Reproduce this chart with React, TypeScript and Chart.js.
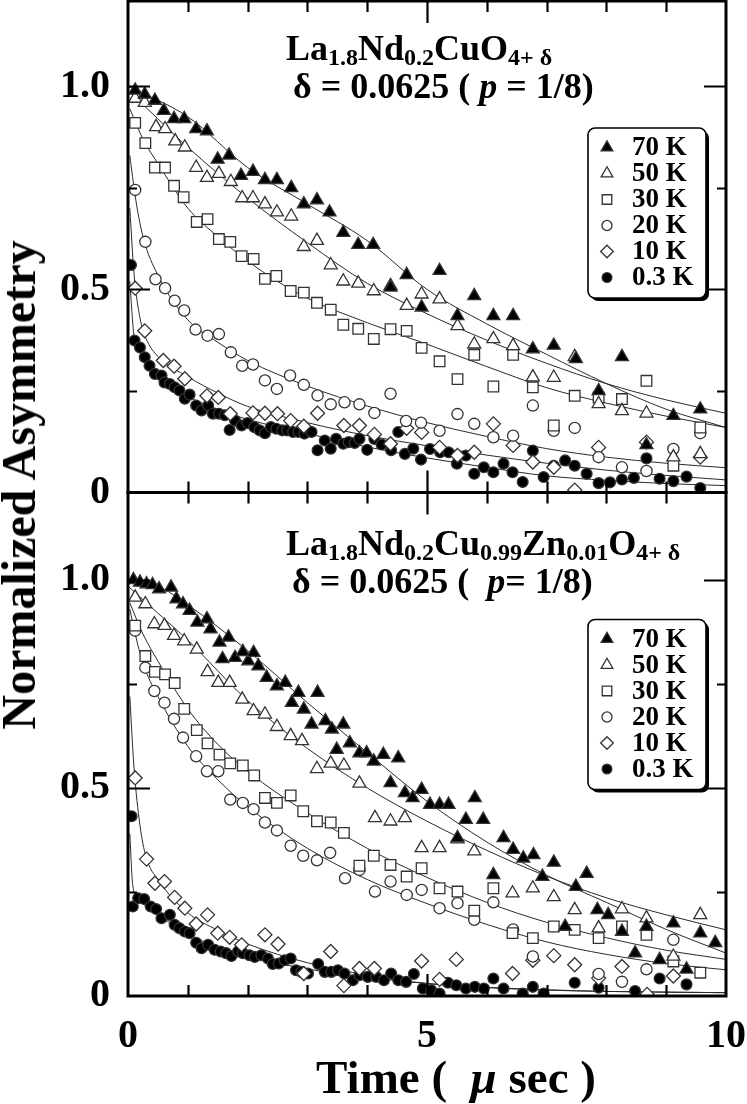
import { useEffect, useRef } from 'react';
import { Chart, registerables } from 'chart.js';
import { drawPoint } from 'chart.js/helpers';

Chart.register(...registerables);

type Pt = [number, number];

const FONT = '"Liberation Serif", "Times New Roman", serif';

const temps = ['70 K', '50 K', '30 K', '20 K', '10 K', '0.3 K'];

// ---- upper panel: La1.8Nd0.2CuO4+d ----
const top70K: Pt[] = [
  [0.12, 0.99], [0.28, 0.98], [0.45, 0.965], [0.6, 0.94], [0.77, 0.92], [0.94, 0.92], [1.14, 0.895],
  [1.32, 0.89], [1.5, 0.82], [1.69, 0.83], [1.89, 0.78], [2.09, 0.79], [2.29, 0.77], [2.49, 0.77],
  [2.73, 0.75], [2.94, 0.71], [3.16, 0.72], [3.37, 0.69], [3.6, 0.64], [3.85, 0.61], [4.1, 0.61],
  [4.39, 0.505], [4.66, 0.536], [4.91, 0.456], [5.21, 0.546], [5.51, 0.435], [5.79, 0.484], [6.11, 0.435],
  [6.44, 0.435], [6.77, 0.353], [7.12, 0.362], [7.49, 0.329], [7.87, 0.25], [8.26, 0.334], [8.67, 0.117],
  [9.12, 0.189], [9.57, 0.205],
];
const top50K: Pt[] = [
  [0.12, 0.97], [0.28, 0.96], [0.47, 0.9], [0.62, 0.895], [0.79, 0.865], [0.95, 0.85], [1.14, 0.8],
  [1.32, 0.775], [1.52, 0.785], [1.72, 0.765], [1.91, 0.725], [2.09, 0.725], [2.29, 0.71], [2.49, 0.69],
  [2.73, 0.68], [2.94, 0.605], [3.16, 0.62], [3.39, 0.56], [3.6, 0.52], [3.85, 0.515], [4.11, 0.496],
  [4.39, 0.509], [4.66, 0.46], [4.91, 0.488], [5.21, 0.476], [5.51, 0.41], [5.79, 0.365], [6.11, 0.378],
  [6.44, 0.361], [6.77, 0.284], [7.12, 0.283], [7.47, 0.334], [7.87, 0.218], [8.26, 0.201], [8.67, 0.195],
  [9.12, 0.087], [9.57, 0.095],
];
const top30K: Pt[] = [
  [0.12, 0.91], [0.29, 0.86], [0.45, 0.8], [0.62, 0.8], [0.77, 0.755], [0.93, 0.727], [1.15, 0.666],
  [1.33, 0.673], [1.52, 0.624], [1.71, 0.617], [1.9, 0.582], [2.1, 0.575], [2.29, 0.526], [2.48, 0.533],
  [2.72, 0.496], [2.94, 0.492], [3.16, 0.467], [3.39, 0.45], [3.6, 0.413], [3.85, 0.403], [4.11, 0.378],
  [4.39, 0.402], [4.66, 0.398], [4.91, 0.356], [5.21, 0.323], [5.51, 0.279], [5.79, 0.339], [6.11, 0.261],
  [6.44, 0.339], [6.77, 0.259], [7.12, 0.165], [7.47, 0.238], [7.87, 0.234], [8.26, 0.23], [8.67, 0.275],
  [9.12, 0.066], [9.57, 0.16],
];
const top20K: Pt[] = [
  [0.12, 0.745], [0.29, 0.617], [0.46, 0.525], [0.62, 0.503], [0.78, 0.472], [0.94, 0.448], [1.13, 0.401],
  [1.33, 0.386], [1.52, 0.39], [1.72, 0.345], [1.91, 0.312], [2.09, 0.315], [2.29, 0.276], [2.49, 0.255],
  [2.71, 0.288], [2.94, 0.265], [3.17, 0.239], [3.39, 0.217], [3.62, 0.222], [3.87, 0.217], [4.12, 0.196],
  [4.39, 0.243], [4.65, 0.176], [4.9, 0.172], [5.21, 0.152], [5.51, 0.193], [5.79, 0.169], [6.11, 0.136],
  [6.44, 0.14], [6.77, 0.214], [7.12, 0.152], [7.47, 0.159], [7.87, 0.087], [8.26, 0.062], [8.67, 0.053],
  [9.12, 0.107], [9.57, 0.146],
];
const top10K: Pt[] = [
  [0.12, 0.503], [0.28, 0.398], [0.59, 0.325], [0.77, 0.311], [0.95, 0.28], [1.32, 0.238], [1.51, 0.234],
  [1.71, 0.194], [2.09, 0.196], [2.29, 0.195], [2.5, 0.194], [2.72, 0.177], [2.94, 0.163], [3.17, 0.195],
  [3.61, 0.165], [3.87, 0.165], [4.12, 0.143], [4.39, 0.12], [4.66, 0.158], [4.91, 0.148], [5.21, 0.111],
  [5.51, 0.091], [5.79, 0.099], [6.11, 0.169], [6.44, 0.116], [6.77, 0.075], [7.12, 0.062], [7.47, 0.006],
  [7.87, 0.111], [8.67, 0.124], [9.57, 0.087],
];
const top03K: Pt[] = [
  [0.05, 0.56], [0.11, 0.374], [0.2, 0.357], [0.28, 0.333], [0.36, 0.312], [0.45, 0.292], [0.56, 0.288],
  [0.61, 0.271], [0.7, 0.267], [0.78, 0.259], [0.86, 0.251], [0.95, 0.231], [1.03, 0.241], [1.14, 0.214],
  [1.23, 0.202], [1.34, 0.214], [1.42, 0.194], [1.52, 0.194], [1.62, 0.19], [1.7, 0.154], [1.79, 0.177],
  [1.9, 0.165], [2.0, 0.171], [2.11, 0.161], [2.2, 0.153], [2.29, 0.146], [2.39, 0.161], [2.48, 0.157],
  [2.58, 0.153], [2.66, 0.153], [2.76, 0.149], [2.85, 0.149], [2.95, 0.145], [3.07, 0.149], [3.17, 0.104],
  [3.29, 0.128], [3.39, 0.108], [3.48, 0.132], [3.6, 0.12], [3.69, 0.124], [3.79, 0.122], [3.87, 0.132],
  [4.0, 0.105], [4.12, 0.132], [4.24, 0.118], [4.4, 0.104], [4.52, 0.149], [4.63, 0.095], [4.77, 0.108],
  [4.9, 0.081], [5.05, 0.107], [5.22, 0.099], [5.36, 0.099], [5.5, 0.071], [5.65, 0.091], [5.79, 0.046],
  [5.95, 0.062], [6.11, 0.05], [6.28, 0.071], [6.43, 0.05], [6.6, 0.026], [6.77, 0.103], [6.95, 0.038],
  [7.12, 0.066], [7.31, 0.079], [7.47, 0.066], [7.67, 0.046], [7.87, 0.023], [8.06, 0.025], [8.26, 0.032],
  [8.46, 0.036], [8.67, 0.084], [8.89, 0.034], [9.12, 0.028], [9.34, 0.039], [9.57, 0.011],
];

// fitted curves
const topFit70K: Pt[] = [[0, 1.0], [1, 0.925], [2, 0.8], [3, 0.71], [4, 0.62], [5, 0.5], [6, 0.415], [7, 0.34], [8, 0.268], [9, 0.205], [10, 0.16]];
const topFit50K: Pt[] = [[0, 0.99], [0.5, 0.92], [1, 0.85], [2, 0.725], [3, 0.615], [4, 0.515], [5, 0.44], [6, 0.375], [7, 0.318], [8, 0.268], [9, 0.228], [10, 0.195]];
const topFit30K: Pt[] = [[0.03, 0.945], [0.25, 0.87], [0.5, 0.81], [1, 0.7], [1.5, 0.63], [2, 0.57], [2.5, 0.52], [3, 0.478], [4, 0.418], [5, 0.365], [6, 0.31], [7, 0.258], [8, 0.22], [9, 0.188], [10, 0.16]];
const topFit20K: Pt[] = [[0.03, 0.83], [0.12, 0.73], [0.25, 0.63], [0.5, 0.535], [1, 0.425], [1.5, 0.37], [2, 0.325], [3, 0.262], [4, 0.213], [5, 0.172], [6, 0.138], [7, 0.108], [8, 0.087], [9, 0.072], [10, 0.061]];
const topFit10K: Pt[] = [[0.03, 0.7], [0.1, 0.54], [0.2, 0.43], [0.3, 0.38], [0.5, 0.335], [1, 0.285], [1.5, 0.245], [2, 0.212], [3, 0.172], [4, 0.14], [5, 0.115], [6, 0.092], [7, 0.072], [8, 0.055], [9, 0.042], [10, 0.031]];
const topFit03K: Pt[] = [[0.03, 0.52], [0.1, 0.385], [0.2, 0.345], [0.3, 0.32], [0.5, 0.29], [1, 0.237], [1.5, 0.205], [2, 0.18], [3, 0.145], [4, 0.112], [5, 0.085], [6, 0.062], [7, 0.041], [8, 0.03], [9, 0.022], [10, 0.017]];

// ---- lower panel: La1.8Nd0.2Cu0.99Zn0.01O4+d ----
const bot70K: Pt[] = [
  [0.09, 1.0], [0.2, 0.994], [0.31, 0.99], [0.41, 0.988], [0.52, 0.978], [0.72, 0.982], [0.81, 0.954],
  [0.92, 0.942], [1.03, 0.926], [1.16, 0.898], [1.32, 0.906], [1.38, 0.882], [1.53, 0.85], [1.58, 0.81],
  [1.68, 0.862], [1.79, 0.813], [1.92, 0.827], [2.01, 0.805], [2.1, 0.825], [2.18, 0.793], [2.32, 0.765],
  [2.49, 0.745], [2.63, 0.753], [2.74, 0.705], [2.85, 0.729], [2.94, 0.689], [3.07, 0.653], [3.17, 0.729],
  [3.3, 0.661], [3.41, 0.641], [3.49, 0.592], [3.6, 0.653], [3.71, 0.608], [3.87, 0.584], [3.99, 0.584],
  [4.11, 0.564], [4.27, 0.58], [4.39, 0.512], [4.52, 0.572], [4.63, 0.488], [4.76, 0.476], [4.91, 0.496],
  [5.05, 0.46], [5.21, 0.46], [5.36, 0.46], [5.51, 0.38], [5.65, 0.424], [5.8, 0.476], [5.94, 0.424],
  [6.11, 0.291], [6.28, 0.38], [6.44, 0.352], [6.61, 0.331], [6.78, 0.339], [6.93, 0.287], [7.12, 0.321],
  [7.31, 0.167], [7.49, 0.263], [7.67, 0.294], [7.85, 0.207], [8.03, 0.195], [8.26, 0.155], [8.48, 0.103],
  [8.67, 0.167], [8.89, 0.087], [9.12, 0.175], [9.34, 0.064], [9.57, 0.151], [9.82, 0.128],
];
const bot50K: Pt[] = [
  [0.12, 0.958], [0.29, 0.942], [0.44, 0.894], [0.61, 0.89], [0.77, 0.866], [0.94, 0.853], [1.15, 0.833],
  [1.33, 0.779], [1.51, 0.753], [1.7, 0.753], [1.91, 0.713], [2.1, 0.685], [2.29, 0.677], [2.49, 0.647],
  [2.72, 0.625], [2.91, 0.613], [3.16, 0.546], [3.39, 0.559], [3.61, 0.554], [3.87, 0.511], [4.13, 0.428],
  [4.39, 0.42], [4.63, 0.428], [4.91, 0.356], [5.21, 0.356], [5.51, 0.377], [5.79, 0.348], [6.43, 0.247],
  [6.77, 0.259], [7.12, 0.238], [7.47, 0.207], [7.87, 0.163], [8.26, 0.209], [8.67, 0.187], [9.12, 0.095],
  [9.57, 0.195],
];
const bot30K: Pt[] = [
  [0.12, 0.89], [0.29, 0.817], [0.45, 0.779], [0.62, 0.773], [0.78, 0.752], [0.94, 0.69], [1.15, 0.639],
  [1.33, 0.607], [1.53, 0.58], [1.71, 0.559], [1.92, 0.554], [2.11, 0.53], [2.29, 0.476], [2.49, 0.464],
  [2.72, 0.482], [2.93, 0.444], [3.16, 0.42], [3.39, 0.417], [3.61, 0.392], [3.87, 0.313], [4.11, 0.337],
  [4.39, 0.315], [4.66, 0.287], [4.91, 0.307], [5.21, 0.259], [5.51, 0.251], [5.79, 0.205], [6.11, 0.259],
  [6.43, 0.151], [6.77, 0.139], [7.12, 0.167], [7.47, 0.159], [7.87, 0.139], [8.26, 0.167], [8.67, 0.147],
  [9.12, 0.083], [9.57, 0.056],
];
const bot20K: Pt[] = [
  [0.12, 0.878], [0.29, 0.789], [0.44, 0.733], [0.61, 0.705], [0.77, 0.666], [0.92, 0.621], [1.14, 0.576],
  [1.32, 0.54], [1.51, 0.54], [1.71, 0.472], [1.92, 0.464], [2.1, 0.449], [2.29, 0.417], [2.49, 0.398],
  [2.72, 0.361], [2.93, 0.337], [3.16, 0.326], [3.38, 0.344], [3.63, 0.283], [3.87, 0.303], [4.13, 0.251],
  [4.39, 0.275], [4.66, 0.243], [4.91, 0.255], [5.21, 0.211], [5.51, 0.223], [5.79, 0.183], [6.11, 0.225],
  [6.44, 0.16], [6.77, 0.095], [7.87, 0.053], [8.26, 0.034], [8.67, 0.064], [9.12, 0.135],
];
const bot10K: Pt[] = [
  [0.12, 0.524], [0.31, 0.329], [0.45, 0.271], [0.61, 0.275], [0.78, 0.237], [0.95, 0.211], [1.14, 0.173],
  [1.33, 0.195], [1.5, 0.151], [1.7, 0.141], [1.9, 0.123], [2.29, 0.147], [2.51, 0.125], [2.94, 0.054],
  [3.39, 0.107], [3.61, 0.025], [3.87, 0.066], [4.12, 0.066], [4.91, 0.084], [5.21, 0.04], [5.49, 0.088],
  [6.43, 0.054], [6.77, 0.086], [7.12, 0.097], [7.47, 0.075], [7.87, 0.043], [8.26, 0.071], [8.68, 0.004],
  [9.12, 0.048],
];
const bot03K: Pt[] = [
  [0.06, 0.432], [0.08, 0.215], [0.17, 0.235], [0.27, 0.233], [0.38, 0.215], [0.47, 0.209], [0.56, 0.187],
  [0.7, 0.195], [0.78, 0.171], [0.86, 0.163], [0.95, 0.155], [1.03, 0.151], [1.14, 0.128], [1.23, 0.115],
  [1.34, 0.123], [1.45, 0.111], [1.55, 0.107], [1.64, 0.103], [1.73, 0.096], [1.84, 0.107], [1.92, 0.103],
  [2.03, 0.098], [2.12, 0.094], [2.23, 0.098], [2.34, 0.09], [2.42, 0.077], [2.52, 0.078], [2.62, 0.086],
  [2.72, 0.09], [2.81, 0.062], [2.9, 0.058], [3.01, 0.054], [3.18, 0.077], [3.29, 0.058], [3.4, 0.058],
  [3.51, 0.062], [3.62, 0.054], [3.76, 0.038], [3.87, 0.05], [4.01, 0.046], [4.15, 0.046], [4.28, 0.038],
  [4.4, 0.054], [4.52, 0.038], [4.65, 0.034], [4.78, 0.053], [4.93, 0.018], [5.07, 0.014], [5.21, 0.006],
  [5.35, 0.032], [5.49, 0.026], [5.65, 0.018], [5.8, 0.022], [5.95, 0.018], [6.11, 0.042], [6.28, 0.018],
  [6.6, 0.006], [6.77, 0.022], [6.95, 0.006], [7.47, 0.032], [7.87, 0.02], [8.48, 0.012], [8.89, 0.042],
  [9.34, 0.028],
];

const botFit70K: Pt[] = [[0, 1.0], [0.5, 0.985], [1, 0.94], [2, 0.83], [3, 0.705], [4, 0.585], [5, 0.468], [6, 0.37], [7, 0.29], [8, 0.225], [9, 0.16], [10, 0.103]];
const botFit50K: Pt[] = [[0, 0.985], [0.5, 0.92], [1, 0.855], [2, 0.71], [3, 0.595], [4, 0.5], [5, 0.42], [6, 0.35], [7, 0.288], [8, 0.236], [9, 0.195], [10, 0.159]];
const botFit30K: Pt[] = [[0.03, 0.945], [0.25, 0.87], [0.5, 0.805], [1, 0.69], [1.5, 0.605], [2, 0.54], [3, 0.44], [4, 0.355], [5, 0.285], [6, 0.225], [7, 0.177], [8, 0.14], [9, 0.11], [10, 0.088]];
const botFit20K: Pt[] = [[0.03, 0.93], [0.12, 0.87], [0.25, 0.8], [0.5, 0.72], [1, 0.6], [1.5, 0.52], [2, 0.455], [3, 0.355], [4, 0.28], [5, 0.222], [6, 0.172], [7, 0.13], [8, 0.1], [9, 0.078], [10, 0.063]];
const botFit10K: Pt[] = [[0.03, 0.72], [0.1, 0.55], [0.2, 0.41], [0.3, 0.335], [0.5, 0.28], [1, 0.2], [1.5, 0.158], [2, 0.125], [3, 0.08], [4, 0.05], [5, 0.03], [6, 0.02], [7, 0.014], [8, 0.011], [10, 0.008]];
const botFit03K: Pt[] = [[0.03, 0.39], [0.08, 0.265], [0.2, 0.228], [0.5, 0.195], [1, 0.15], [1.5, 0.117], [2, 0.095], [3, 0.065], [4, 0.045], [5, 0.03], [6, 0.021], [7, 0.015], [8, 0.011], [10, 0.008]];

const markers = [
  { style: 'triangle', r: 7.5, fill: '#000' },
  { style: 'triangle', r: 7.5, fill: '#fff' },
  { style: 'rect', r: 7.5, fill: '#fff' },
  { style: 'circle', r: 5.6, fill: '#fff' },
  { style: 'rectRot', r: 7, fill: '#fff' },
  { style: 'circle', r: 5.4, fill: '#000' },
];

function panelSets(points: Pt[][], fits: Pt[][], axis: string) {
  const pts = points.map((d, i) => ({
    label: temps[i],
    data: d,
    xAxisID: 'x',
    yAxisID: axis,
    showLine: false,
    pointStyle: markers[i].style,
    pointRadius: markers[i].r,
    pointBackgroundColor: markers[i].fill,
    pointBorderColor: '#333',
    pointBorderWidth: 1.3,
    order: 0,
  }));
  const lines = fits.map((d, i) => ({
    label: temps[i] + ' fit',
    data: d,
    xAxisID: 'x',
    yAxisID: axis,
    showLine: true,
    pointRadius: 0,
    borderColor: '#2a2a2a',
    borderWidth: 1,
    cubicInterpolationMode: 'monotone',
    order: 1,
  }));
  return [...pts, ...lines];
}

// frame, inward ticks and the boxed legends
const decorPlugin = {
  id: 'decor',
  afterDraw(chart: any) {
    const { ctx, chartArea } = chart;
    const { left, right } = chartArea;
    const xs = chart.scales.x;
    ctx.save();
    ctx.strokeStyle = '#000';
    for (const id of ['yTop', 'yBot']) {
      const s = chart.scales[id];
      const top = s.top;
      const bottom = s.bottom;
      ctx.strokeStyle = '#000';
      ctx.lineWidth = 2.2;
      ctx.beginPath();
      for (let v = 1; v < 10; v++) {
        const px = Math.round(xs.getPixelForValue(v)) + 0.5;
        const len = v % 5 === 0 ? 22 : 11;
        ctx.moveTo(px, top);
        ctx.lineTo(px, top + len);
        ctx.moveTo(px, bottom);
        ctx.lineTo(px, bottom - len);
      }
      for (const v of [0.25, 0.5, 0.75, 1.0]) {
        const py = Math.round(s.getPixelForValue(v)) + 0.5;
        const len = v === 0.5 || v === 1.0 ? 22 : 9;
        ctx.moveTo(left, py);
        ctx.lineTo(left + len, py);
        ctx.moveTo(right, py);
        ctx.lineTo(right - len, py);
      }
      ctx.stroke();
      ctx.lineWidth = 3;
      ctx.strokeRect(left, top, right - left, bottom - top);

      // legend box
      const bw = 118;
      const bh = 170;
      const bx = right - 20 - bw;
      const by = top + 127;
      ctx.fillStyle = '#000';
      ctx.beginPath();
      ctx.roundRect(bx + 3, by + 3, bw, bh, 7);
      ctx.fill();
      ctx.fillStyle = '#fff';
      ctx.beginPath();
      ctx.roundRect(bx, by, bw, bh, 7);
      ctx.fill();
      ctx.lineWidth = 1.6;
      ctx.stroke();
      ctx.font = `bold 27px ${FONT}`;
      ctx.textBaseline = 'middle';
      ctx.textAlign = 'left';
      temps.forEach((t, i) => {
        const cy = by + 19.5 + i * 26;
        const m = markers[i];
        ctx.fillStyle = m.fill;
        ctx.strokeStyle = '#333';
        ctx.lineWidth = 1.3;
        drawPoint(ctx, { pointStyle: m.style, radius: m.r * 0.9, borderWidth: 1.3, rotation: 0 } as any, bx + 19, cy);
        ctx.fillStyle = '#000';
        ctx.fillText(t, bx + 44, cy + 1);
      });
    }
    ctx.restore();
  },
};

const tickFont = { family: FONT, size: 40, weight: 'bold' as const };

const yCommon = {
  type: 'linear' as const,
  position: 'left' as const,
  stack: 'panels',
  min: 0,
  max: 1.21,
  grid: { display: false, drawTicks: false },
  border: { display: false },
  ticks: {
    stepSize: 0.5,
    includeBounds: false,
    padding: 18,
    color: '#000',
    font: tickFont,
    callback: (v: any) => (Number(v) === 0 ? '0' : Number(v).toFixed(1)),
  },
  afterFit: (s: any) => {
    s.width = 128;
    s.paddingTop = 0;
    s.paddingBottom = 0;
  },
};

const sub = { fontSize: 24, verticalAlign: '-5px', lineHeight: 0 };
const annot = {
  position: 'absolute' as const,
  fontSize: 36,
  lineHeight: '36px',
  fontWeight: 'bold' as const,
  whiteSpace: 'pre' as const,
};

export default function App() {
  const canvasRef = useRef<HTMLCanvasElement>(null);

  useEffect(() => {
    if (!canvasRef.current) return;
    const chart = new Chart(canvasRef.current, {
      type: 'scatter',
      data: {
        datasets: [
          ...panelSets(
            [top70K, top50K, top30K, top20K, top10K, top03K],
            [topFit70K, topFit50K, topFit30K, topFit20K, topFit10K, topFit03K],
            'yTop'
          ),
          ...panelSets(
            [bot70K, bot50K, bot30K, bot20K, bot10K, bot03K],
            [botFit70K, botFit50K, botFit30K, botFit20K, botFit10K, botFit03K],
            'yBot'
          ),
        ] as any,
      },
      options: {
        responsive: false,
        animation: false,
        events: [],
        layout: { padding: { top: 1, right: 21, left: 0, bottom: 0 }, autoPadding: false },
        plugins: { legend: { display: false }, tooltip: { enabled: false } },
        scales: {
          x: {
            type: 'linear',
            position: 'bottom',
            min: 0,
            max: 10,
            grid: { display: false, drawTicks: false },
            border: { display: false },
            ticks: { stepSize: 5, padding: 17, color: '#000', font: tickFont },
            afterFit: (s: any) => {
              s.height = 108;
              s.paddingLeft = 0;
              s.paddingRight = 0;
            },
          },
          yTop: { ...yCommon, weight: 1, stackWeight: 491 },
          yBot: { ...yCommon, weight: 0, stackWeight: 503 },
        } as any,
      },
      plugins: [decorPlugin],
    });
    return () => chart.destroy();
  }, []);

  return (
    <div
      style={{
        position: 'absolute',
        left: 0,
        top: 0,
        width: 747,
        height: 1104,
        background: '#fff',
        color: '#000',
        fontFamily: FONT,
        overflow: 'hidden',
      }}
    >
      <canvas ref={canvasRef} width={747} height={1104} style={{ position: 'absolute', left: 0, top: 0 }} />

      <div style={{ ...annot, left: 286, top: 30 }}>
        La<span style={sub}>1.8</span>Nd<span style={sub}>0.2</span>CuO<span style={sub}>4+ δ</span>
      </div>
      <div style={{ ...annot, left: 293, top: 68 }}>
        δ = 0.0625 ( <i>p</i> = 1/8)
      </div>

      <div style={{ ...annot, left: 286, top: 525 }}>
        La<span style={sub}>1.8</span>Nd<span style={sub}>0.2</span>Cu<span style={sub}>0.99</span>Zn
        <span style={sub}>0.01</span>O<span style={sub}>4+ δ</span>
      </div>
      <div style={{ ...annot, left: 292, top: 563 }}>
        δ = 0.0625 (  <i>p</i>= 1/8)
      </div>

      <div
        style={{
          position: 'absolute',
          left: 19,
          top: 485,
          fontSize: 48,
          lineHeight: '48px',
          fontWeight: 'bold',
          whiteSpace: 'nowrap',
          transform: 'translate(-50%, -50%) rotate(-90deg)',
        }}
      >
        Normalized Asymmetry
      </div>

      <div
        style={{
          position: 'absolute',
          left: 456,
          top: 1054,
          fontSize: 47,
          lineHeight: '47px',
          fontWeight: 'bold',
          whiteSpace: 'pre',
          transform: 'translateX(-50%)',
        }}
      >
        Time (  <i>μ</i> sec )
      </div>
    </div>
  );
}
